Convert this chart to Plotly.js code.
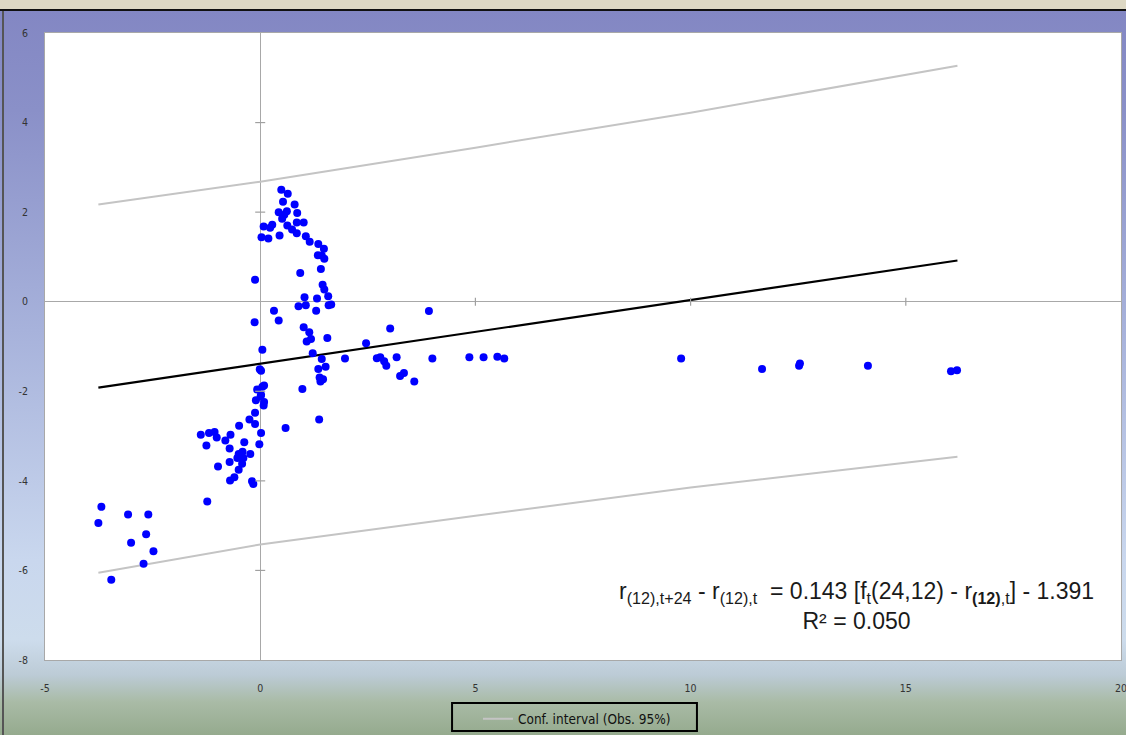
<!DOCTYPE html>
<html>
<head>
<meta charset="utf-8">
<script src="https://cdn.plot.ly/plotly-3.0.1.min.js"></script>
<style>
  html, body { margin:0; padding:0; width:1126px; height:735px; overflow:hidden; }
  body {
    background: linear-gradient(to bottom,
      #ddd8c4 0px, #ddd8c4 9px, #111 9px, #111 11px,
      #8387c3 11px, #8a90c8 110px, #a7b2db 330px, #c9d7ee 560px,
      #cddcec 640px, #bccbd6 675px, #a9bba6 702px, #95aa8e 735px);
  }
  #edge { position:absolute; left:2px; top:11px; width:2px; height:724px; background:#555; }
  #chart { position:absolute; left:0; top:0; width:1126px; height:735px; }
</style>
</head>
<body>
<div id="edge"></div>
<div id="chart"></div>
<script>
// Observed points: x = f_t(24,12) - r(12),t ; y = r(12),t+24 - r(12),t
const obsX = [0.49,0.64,0.53,0.80,0.43,0.62,0.56,0.86,0.51,0.85,1.01,0.28,0.08,0.63,0.23,0.74,0.85,0.45,0.03,0.19,
  1.06,1.15,1.35,1.48,1.34,1.43,1.49,1.41,0.93,-0.12,1.45,1.49,1.58,1.03,1.32,0.89,1.06,1.30,1.59,1.65,
  0.32,0.43,-0.13,1.01,1.14,1.18,1.08,1.56,2.46,3.02,3.92,0.05,1.22,1.43,1.97,2.71,2.79,2.88,2.93,3.17,
  4.00,4.86,5.19,5.51,5.67,9.78,11.66,12.52,12.54,14.12,16.05,16.19,3.25,3.34,3.58,1.35,1.52,1.38,1.46,1.40,
  0.98,1.37,0.59,-0.01,0.02,0.09,0.05,-0.07,0.02,-0.10,0.01,0.09,0.08,-0.12,-0.25,-0.12,-0.49,0.02,-1.38,-1.19,
  -1.06,-1.01,-0.69,-0.81,-0.37,-1.25,-0.02,-0.71,-0.41,-0.50,-0.23,-0.53,-0.39,-0.71,-0.42,-0.98,-0.50,-0.60,-0.70,-0.19,
  -0.16,-1.23,-3.69,-3.76,-3.07,-2.60,-2.65,-3.00,-2.48,-2.71,-3.46];
const obsY = [2.50,2.41,2.23,2.17,2.00,2.02,1.94,1.98,1.85,1.77,1.77,1.72,1.68,1.70,1.65,1.61,1.53,1.48,1.44,1.41,
  1.46,1.34,1.29,1.18,1.04,1.03,0.96,0.73,0.64,0.49,0.38,0.27,0.12,0.10,0.07,-0.10,-0.08,-0.20,-0.08,-0.06,
  -0.20,-0.42,-0.46,-0.57,-0.68,-0.83,-0.89,-0.81,-0.93,-0.60,-0.21,-1.07,-1.15,-1.28,-1.27,-1.26,-1.24,-1.33,-1.43,-1.24,
  -1.27,-1.24,-1.24,-1.23,-1.27,-1.27,-1.50,-1.43,-1.38,-1.43,-1.55,-1.53,-1.66,-1.59,-1.78,-1.50,-1.45,-1.69,-1.73,-1.78,
  -1.95,-2.63,-2.82,-1.51,-1.54,-1.87,-1.90,-1.96,-2.08,-2.20,-2.11,-2.24,-2.32,-2.48,-2.63,-2.73,-2.77,-2.93,-2.97,-2.93,
  -2.91,-3.03,-2.97,-3.10,-3.14,-3.21,-3.18,-3.28,-3.35,-3.40,-3.40,-3.49,-3.49,-3.58,-3.62,-3.68,-3.75,-3.92,-3.99,-4.01,
  -4.07,-4.46,-4.58,-4.94,-4.75,-4.75,-5.19,-5.38,-5.57,-5.85,-6.21];

// Fitted line
const fitX = [-3.76, 16.2];
const fitY = [-1.92, 0.92];

// Confidence interval (Obs. 95%)
const ciX = [-3.76, 0, 5, 10, 16.2];
const ciUpper = [2.17, 2.68, 3.44, 4.22, 5.27];
const ciLower = [-6.05, -5.42, -4.78, -4.15, -3.46];

const xTicks = [-5, 0, 5, 10, 15, 20];
const yTicks = [-8, -6, -4, -2, 0, 2, 4, 6];
const legendLabel = "Conf. interval (Obs. 95%)";
const eqText = "r<sub>(12),t+24</sub> - r<sub>(12),t</sub>  = 0.143 [f<sub>t</sub>(24,12) - r<sub><b>(12)</b>,t</sub>] - 1.391<br>R² = 0.050";

const narrow = "'Liberation Sans Narrow','Arial Narrow','DejaVu Sans Condensed',sans-serif";
const tickFont = {family: narrow, size: 10.5, color: "#333"};

const traces = [
  {x: ciX, y: ciUpper, type: "scatter", mode: "lines", name: legendLabel,
   line: {color: "#c4c4c4", width: 2}, showlegend: true, hoverinfo: "skip"},
  {x: ciX, y: ciLower, type: "scatter", mode: "lines", name: legendLabel,
   line: {color: "#c4c4c4", width: 2}, showlegend: false, hoverinfo: "skip"},
  {x: fitX, y: fitY, type: "scatter", mode: "lines",
   line: {color: "#000", width: 2.2}, showlegend: false},
  {x: obsX, y: obsY, type: "scatter", mode: "markers",
   marker: {color: "#0000ff", size: 8}, showlegend: false}
];

const shapes = [];
xTicks.filter(v => v !== 0 && v > -5 && v < 20).forEach(v => shapes.push({
  type: "line", xref: "x", yref: "y", x0: v, x1: v, ysizemode: "pixel", yanchor: 0, y0: -4, y1: 4,
  line: {color: "#a0a0a0", width: 1.2}}));
yTicks.filter(v => v !== 0 && v > -8 && v < 6).forEach(v => shapes.push({
  type: "line", xref: "x", yref: "y", y0: v, y1: v, xsizemode: "pixel", xanchor: 0, x0: -5, x1: 5,
  line: {color: "#a0a0a0", width: 1.2}}));
// legend frame
shapes.push({type: "rect", xref: "paper", yref: "paper", x0: 0.3783, x1: 0.6059, y0: -0.0686, y1: -0.1132,
  line: {color: "#000", width: 2}, fillcolor: "rgba(0,0,0,0)"});

const layout = {
  width: 1126, height: 735,
  margin: {l: 45, r: 5, t: 33, b: 75, autoexpand: false},
  paper_bgcolor: "rgba(0,0,0,0)",
  plot_bgcolor: "#ffffff",
  showlegend: true,
  xaxis: {range: [-5, 20], tickvals: xTicks, ticktext: xTicks.map(String), showgrid: false,
          zeroline: true, zerolinecolor: "#a8a8a8", zerolinewidth: 1.3,
          showline: true, mirror: true, linecolor: "#a8a8a8", linewidth: 1,
          ticks: "", ticklabelstandoff: 18, tickfont: tickFont, automargin: false,
          ticklabeloverflow: "allow"},
  yaxis: {range: [-8, 6], tickvals: yTicks, ticktext: yTicks.map(String), showgrid: false,
          zeroline: true, zerolinecolor: "#a8a8a8", zerolinewidth: 1.3,
          showline: true, mirror: true, linecolor: "#a8a8a8", linewidth: 1,
          ticks: "", ticklabelstandoff: 14, tickfont: tickFont, automargin: false,
          ticklabeloverflow: "allow"},
  legend: {orientation: "h", x: 0.4944, xanchor: "center", y: -0.0695, yanchor: "top",
           bgcolor: "rgba(0,0,0,0)", borderwidth: 0,
           font: {family: narrow, size: 13.5, color: "#111"}},
  shapes: shapes,
  annotations: [{xref: "paper", yref: "paper", x: 0.7546, y: 0.086, xanchor: "center", yanchor: "middle",
                 align: "center", showarrow: false, text: eqText,
                 font: {family: "'Liberation Sans', Arial, sans-serif", size: 23, color: "#1a1a1a"}}]
};

Plotly.newPlot("chart", traces, layout, {displayModeBar: false, staticPlot: true});
</script>
</body>
</html>
